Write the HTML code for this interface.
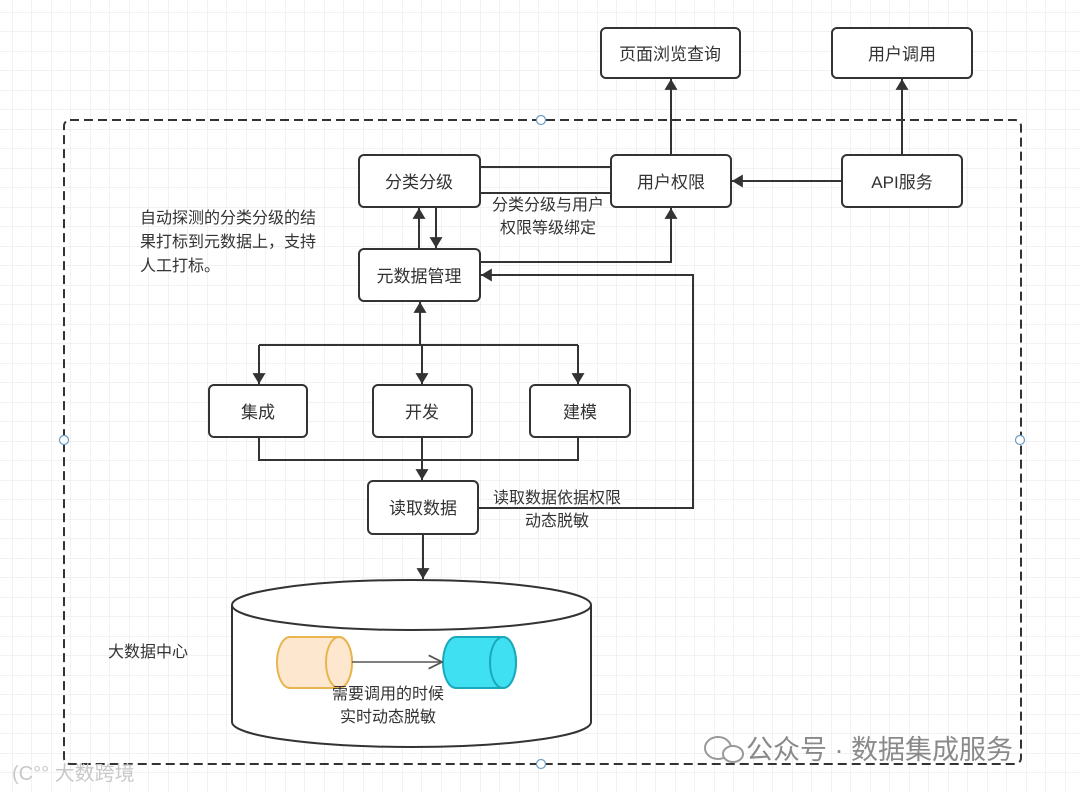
<!DOCTYPE html>
<html><head><meta charset="utf-8"><style>
html,body{margin:0;padding:0;background:#fff}
svg{display:block}
text{font-family:"Liberation Sans","Noto Sans CJK SC",sans-serif;fill:#333}
</style></head><body>
<svg width="1080" height="792" viewBox="0 0 1080 792" xmlns="http://www.w3.org/2000/svg">
<defs>
<pattern id="g" x="12" y="12" width="19.5" height="19.5" patternUnits="userSpaceOnUse">
<path d="M0 0H19.5M0 0V19.5" stroke="#e4e4e4" stroke-width="1" fill="none"/>
</pattern>
<marker id="a" viewBox="0 0 10 12" refX="10" refY="6" markerWidth="13" markerHeight="13" markerUnits="userSpaceOnUse" orient="auto"><path d="M0 0L10 6L0 12z" fill="#333"/></marker>
<marker id="o" viewBox="0 0 12 12" refX="11" refY="6" markerWidth="16" markerHeight="16" markerUnits="userSpaceOnUse" orient="auto"><path d="M1 1L11 6L1 11" fill="none" stroke="#555" stroke-width="1.3"/></marker>
</defs>
<rect width="1080" height="792" fill="url(#g)"/>
<rect x="64" y="120" width="957" height="644" rx="6" fill="none" stroke="#333" stroke-width="2" stroke-dasharray="9,5"/>
<g fill="#fff" stroke="#6a9bc5" stroke-width="1.2"><circle cx="541" cy="120" r="4.5"/><circle cx="64" cy="440" r="4.5"/><circle cx="1020" cy="440" r="4.5"/><circle cx="541" cy="764" r="4.5"/></g>

<g stroke="#333" stroke-width="2" fill="none">
<line x1="480" y1="167" x2="611" y2="167"/>
<line x1="480" y1="193" x2="611" y2="193"/>
<line x1="671" y1="155" x2="671" y2="79" marker-end="url(#a)"/>
<line x1="902" y1="155" x2="902" y2="79" marker-end="url(#a)"/>
<line x1="842" y1="181" x2="732" y2="181" marker-end="url(#a)"/>
<line x1="419" y1="249" x2="419" y2="208" marker-end="url(#a)"/>
<line x1="436" y1="208" x2="436" y2="248" marker-end="url(#a)"/>
<polyline points="480,262 671,262 671,208" marker-end="url(#a)"/>
<polyline points="479,508 693,508 693,275 481,275" marker-end="url(#a)"/>
<line x1="420" y1="345" x2="420" y2="302" marker-end="url(#a)"/>
<line x1="259" y1="345" x2="578" y2="345"/>
<line x1="259" y1="345" x2="259" y2="384" marker-end="url(#a)"/>
<line x1="422" y1="345" x2="422" y2="384" marker-end="url(#a)"/>
<line x1="578" y1="345" x2="578" y2="384" marker-end="url(#a)"/>
<polyline points="259,437 259,460 578,460 578,437"/>
<line x1="422" y1="437" x2="422" y2="480" marker-end="url(#a)"/>
<line x1="423" y1="534" x2="423" y2="579" marker-end="url(#a)"/>
</g>

<g fill="#fff" stroke="#333" stroke-width="2">
<rect x="601" y="28" width="139" height="50" rx="5"/>
<rect x="832" y="28" width="140" height="50" rx="5"/>
<rect x="359" y="155" width="121" height="52" rx="5"/>
<rect x="611" y="155" width="120" height="52" rx="5"/>
<rect x="842" y="155" width="120" height="52" rx="5"/>
<rect x="359" y="249" width="121" height="52" rx="5"/>
<rect x="209" y="385" width="98" height="52" rx="5"/>
<rect x="373" y="385" width="99" height="52" rx="5"/>
<rect x="530" y="385" width="100" height="52" rx="5"/>
<rect x="368" y="481" width="110" height="53" rx="5"/>
</g>
<g font-size="17" text-anchor="middle">
<text x="670" y="60">页面浏览查询</text>
<text x="902" y="60">用户调用</text>
<text x="419" y="188">分类分级</text>
<text x="671" y="188">用户权限</text>
<text x="902" y="188">API服务</text>
<text x="419" y="282">元数据管理</text>
<text x="258" y="418">集成</text>
<text x="422" y="418">开发</text>
<text x="580" y="418">建模</text>
<text x="423" y="514">读取数据</text>
</g>
<g font-size="16" text-anchor="middle">
<text x="548" y="210">分类分级与用户</text>
<text x="548" y="233">权限等级绑定</text>
<text x="557" y="503">读取数据依据权限</text>
<text x="557" y="526">动态脱敏</text>
</g>
<g font-size="16">
<text x="140" y="223">自动探测的分类分级的结</text>
<text x="140" y="247">果打标到元数据上，支持</text>
<text x="140" y="271">人工打标。</text>
<text x="108" y="657">大数据中心</text>
</g>

<path d="M232 605V722A179.5 25 0 0 0 591 722V605" fill="#fff" stroke="#333" stroke-width="2"/>
<ellipse cx="411.5" cy="605" rx="179.5" ry="25" fill="#fff" stroke="#333" stroke-width="2"/>
<path d="M290 637H339A13 25.5 0 0 1 339 688H290A13 25.5 0 0 1 290 637z" fill="#fde8cf" stroke="#e8b550" stroke-width="2"/>
<ellipse cx="339" cy="662.5" rx="13" ry="25.5" fill="#fde8cf" stroke="#e8b550" stroke-width="2"/>
<path d="M456 637H503A13 25.5 0 0 1 503 688H456A13 25.5 0 0 1 456 637z" fill="#3ee0f2" stroke="#1aa9bb" stroke-width="2"/>
<ellipse cx="503" cy="662.5" rx="13" ry="25.5" fill="#3ee0f2" stroke="#1aa9bb" stroke-width="2"/>
<line x1="352" y1="662" x2="442" y2="662" stroke="#555" stroke-width="1.5" marker-end="url(#o)"/>
<g font-size="16" text-anchor="middle">
<text x="388" y="699">需要调用的时候</text>
<text x="388" y="722">实时动态脱敏</text>
</g>

<g>
<ellipse cx="718" cy="748" rx="13" ry="11" fill="none" stroke="#999" stroke-width="2"/>
<ellipse cx="733" cy="754" rx="10" ry="8" fill="#fff" stroke="#999" stroke-width="2"/>
<text x="746" y="759" font-size="27" style="fill:#8a8a8a">公众号 · 数据集成服务</text>
<text x="12" y="780" font-size="20" style="fill:#c8c8c8">(C°° 大数跨境</text>
</g>
</svg>
</body></html>
